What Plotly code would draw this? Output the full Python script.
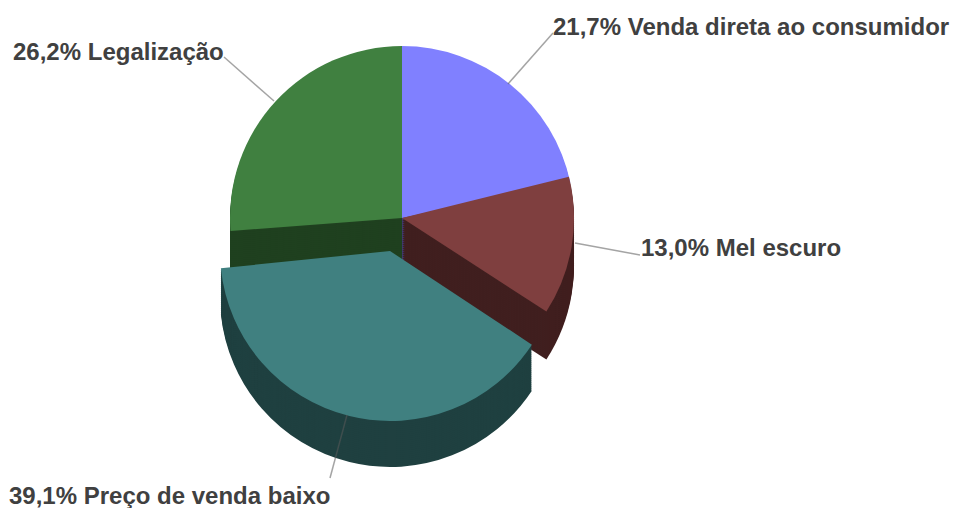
import plotly.graph_objects as go

W, H = 954, 508
categories = ["Venda direta ao consumidor", "Mel escuro", "Preço de venda baixo", "Legalização"]
values = [21.7, 13.0, 39.1, 26.2]
value_labels = ["21,7%", "13,0%", "39,1%", "26,2%"]
top_colors = ["#8080ff", "#7f3f3f", "#408080", "#408040"]
side_colors = ["#40407f", "#401f1f", "#1f4040", "#1f401f"]
NONE = "rgba(0,0,0,0)"

def domain(cx, cy, r):
    return dict(x=[(cx - r) / W, (cx + r) / W], y=[1 - (cy + r) / H, 1 - (cy - r) / H])

def pie(cx, cy, r, colors, rotation=0):
    return go.Pie(labels=categories, values=values, sort=False, direction="clockwise", rotation=rotation,
                  domain=domain(cx, cy, r), textinfo="none", hoverinfo="skip", showlegend=False,
                  marker=dict(colors=colors, line=dict(width=0)))

def only(colors, indices):
    return [c if i in indices else NONE for i, c in enumerate(colors)]

fig = go.Figure()
STEP = 2
BACK = (402, 218, 172)
FRONT = (390, 251, 170)
RED_ROT = -2
TEAL_ROT = -1.5

for d in range(48, 0, -STEP):
    fig.add_trace(pie(BACK[0], BACK[1] + d, BACK[2], only(side_colors, {0, 3})))
    fig.add_trace(pie(BACK[0], BACK[1] + d, BACK[2], only(side_colors, {1}), RED_ROT))
fig.add_trace(pie(*BACK, only(top_colors, {0, 3})))
fig.add_trace(pie(*BACK, only(top_colors, {1}), RED_ROT))
for d in range(46, 0, -STEP):
    fig.add_trace(pie(FRONT[0], FRONT[1] + d, FRONT[2], only(side_colors, {2}), TEAL_ROT))
fig.add_trace(pie(*FRONT, only(top_colors, {2}), TEAL_ROT))

# leader lines: (x0, y0, x1, y1) in pixels
leaders = [(508, 84, 553, 33), (575, 243, 640, 255), (330, 478, 347, 415), (274, 101, 224, 57)]
label_pos = [(551, 26, 0), (639, 247, 1), (7, 495, 2), (11, 51, 3)]

for x0, y0, x1, y1 in leaders:
    fig.add_shape(type="line", xref="paper", yref="paper", x0=x0 / W, y0=1 - y0 / H, x1=x1 / W, y1=1 - y1 / H,
                  line=dict(color="rgba(90,90,90,0.55)", width=1.5))
for x, y, i in label_pos:
    fig.add_annotation(xref="paper", yref="paper", x=x / W, y=1 - y / H, xanchor="left", yanchor="middle",
                       showarrow=False, text=f"{value_labels[i]} {categories[i]}",
                       font=dict(family="Liberation Sans", size=24, color="#404040", weight="bold"))

fig.update_layout(width=W, height=H, margin=dict(l=0, r=0, t=0, b=0), paper_bgcolor="white", showlegend=False)
fig.write_html("out.html", config={"displayModeBar": False}, post_script="document.body.style.margin='0';")
